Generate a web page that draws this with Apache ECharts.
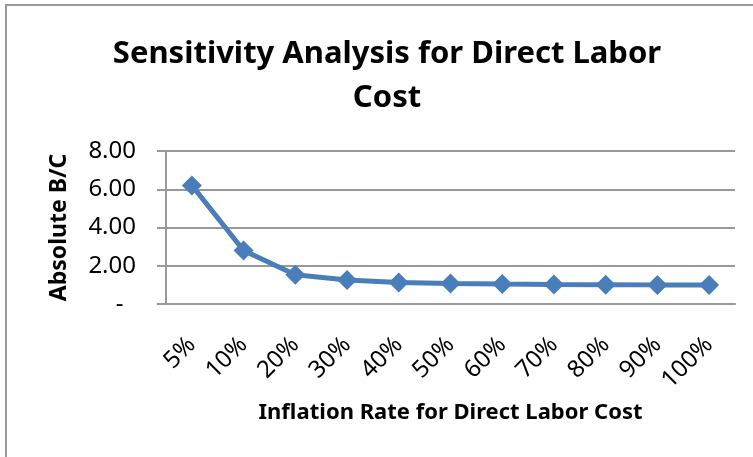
<!DOCTYPE html>
<html>
<head>
<meta charset="utf-8">
<script src="https://cdn.jsdelivr.net/npm/echarts@6/dist/echarts.min.js"></script>
<style>
  html, body { margin: 0; padding: 0; background: #fff; }
  #chart { width: 753px; height: 457px; }
</style>
</head>
<body>
<div id="chart"></div>
<script>
// inflation rates on the x axis
const rates = ['5%', '10%', '20%', '30%', '40%', '50%', '60%', '70%', '80%', '90%', '100%']
// absolute B/C
const bcValues = [6.2, 2.8, 1.53, 1.25, 1.12, 1.07, 1.04, 1.02, 1.01, 1.0, 1.0]
const yTicks = [0, 2, 4, 6, 8]

const chart = echarts.init(document.getElementById('chart'))
const font = "'Noto Sans', sans-serif"

chart.setOption({
  animation: false,
  textStyle: { fontFamily: font },
  title: {
    text: 'Sensitivity Analysis for Direct Labor\nCost',
    left: 382,
    top: 27,
    textAlign: 'center',
    textStyle: { fontSize: 31, fontWeight: 'bold', color: '#000', lineHeight: 44, fontFamily: font }
  },
  graphic: [{
    type: 'rect',
    shape: { x: 6, y: 5, width: 800, height: 500 },
    style: { fill: 'none', stroke: '#999', lineWidth: 2 }
  }],
  grid: { left: 166, right: 18, top: 151, bottom: 153 },
  xAxis: {
    type: 'category',
    data: rates,
    boundaryGap: true,
    name: 'Inflation Rate for Direct Labor Cost',
    nameLocation: 'middle',
    nameGap: 98,
    nameTextStyle: { fontSize: 22, fontWeight: 'bold', color: '#000', fontFamily: font },
    axisLine: { lineStyle: { color: '#999', width: 2 } },
    axisTick: { show: false },
    axisLabel: { rotate: 45, margin: 37, fontSize: 24, color: '#000', fontFamily: font }
  },
  yAxis: {
    type: 'value',
    min: 0,
    max: 8,
    interval: 2,
    name: 'Absolute B/C',
    nameLocation: 'middle',
    nameGap: 95,
    nameTextStyle: { fontSize: 23, fontWeight: 'bold', color: '#000', fontFamily: font },
    axisLine: { show: true, lineStyle: { color: '#999', width: 2 } },
    axisTick: { show: true, length: 9, lineStyle: { color: '#999', width: 2 } },
    splitLine: { lineStyle: { color: '#999', width: 2 } },
    axisLabel: {
      fontSize: 24,
      color: '#000',
      margin: 30,
      fontFamily: font,
      formatter: v => (v === yTicks[0] ? '-  ' : v.toFixed(2))
    }
  },
  series: [{
    type: 'line',
    data: bcValues,
    symbol: 'diamond',
    symbolSize: 20,
    lineStyle: { color: '#4a7ebb', width: 5 },
    itemStyle: { color: '#4a7ebb' }
  }]
})
</script>
</body>
</html>
